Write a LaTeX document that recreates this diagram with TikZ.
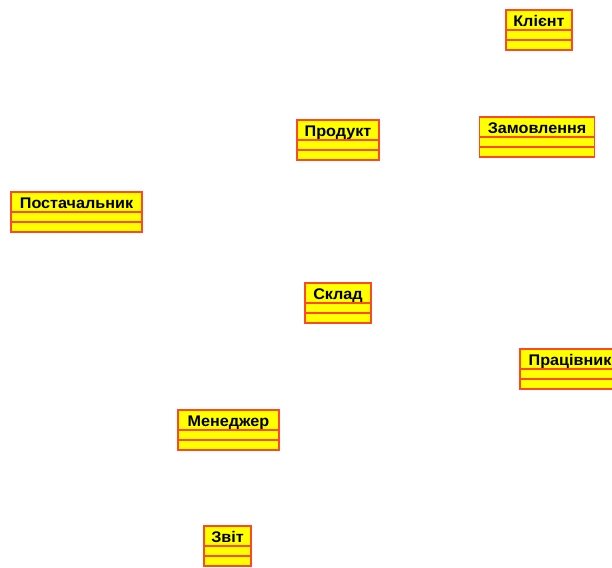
\documentclass[tikz,border=0pt]{standalone}
\usepackage{fontspec}
\setmainfont{Liberation Sans}[FakeStretch=1.05]
\usepackage{tikz}
\usetikzlibrary{positioning}
\definecolor{umlred}{RGB}{255,72,40}
\definecolor{umlyellow}{RGB}{255,255,0}
\tikzstyle{classname} = [draw=umlred, fill=umlyellow, line width=1.4pt, minimum height=20pt, inner sep=0pt, outer sep=0pt, text height=16.5pt, text depth=3.5pt, font=\bfseries\fontsize{15.4}{17}\selectfont]
\tikzstyle{classpart} = [draw=umlred, fill=umlyellow, line width=1.4pt, minimum height=10pt, inner sep=0pt, outer sep=0pt]

\begin{document}
\begin{tikzpicture}[x=1pt, y=1pt]
    \useasboundingbox (0,0) rectangle (612,567);
    % classes
    \node (klient) [classname, minimum width=66pt] at (539,547) {Клієнт};
    \node (klient-attr) [classpart, minimum width=66pt, below=0pt of klient] {};
    \node (klient-ops) [classpart, minimum width=66pt, below=0pt of klient-attr] {};

    \node (produkt) [classname, minimum width=82pt] at (338,437) {Продукт};
    \node (produkt-attr) [classpart, minimum width=82pt, below=0pt of produkt] {};
    \node (produkt-ops) [classpart, minimum width=82pt, below=0pt of produkt-attr] {};

    \node (zamovlennia) [classname, minimum width=115pt] at (537,440) {Замовлення};
    \node (zamovlennia-attr) [classpart, minimum width=115pt, below=0pt of zamovlennia] {};
    \node (zamovlennia-ops) [classpart, minimum width=115pt, below=0pt of zamovlennia-attr] {};

    \node (postachalnyk) [classname, minimum width=131pt] at (76.5,365) {Постачальник};
    \node (postachalnyk-attr) [classpart, minimum width=131pt, below=0pt of postachalnyk] {};
    \node (postachalnyk-ops) [classpart, minimum width=131pt, below=0pt of postachalnyk-attr] {};

    \node (sklad) [classname, minimum width=66pt] at (338,274) {Склад};
    \node (sklad-attr) [classpart, minimum width=66pt, below=0pt of sklad] {};
    \node (sklad-ops) [classpart, minimum width=66pt, below=0pt of sklad-attr] {};

    \node (pratsivnyk) [classname, minimum width=100pt] at (570,208) {Працівник};
    \node (pratsivnyk-attr) [classpart, minimum width=100pt, below=0pt of pratsivnyk] {};
    \node (pratsivnyk-ops) [classpart, minimum width=100pt, below=0pt of pratsivnyk-attr] {};

    \node (menedzher) [classname, minimum width=101pt] at (228.5,147) {Менеджер};
    \node (menedzher-attr) [classpart, minimum width=101pt, below=0pt of menedzher] {};
    \node (menedzher-ops) [classpart, minimum width=101pt, below=0pt of menedzher-attr] {};

    \node (zvit) [classname, minimum width=47pt] at (227.5,31) {Звіт};
    \node (zvit-attr) [classpart, minimum width=47pt, below=0pt of zvit] {};
    \node (zvit-ops) [classpart, minimum width=47pt, below=0pt of zvit-attr] {};
\end{tikzpicture}
\end{document}
